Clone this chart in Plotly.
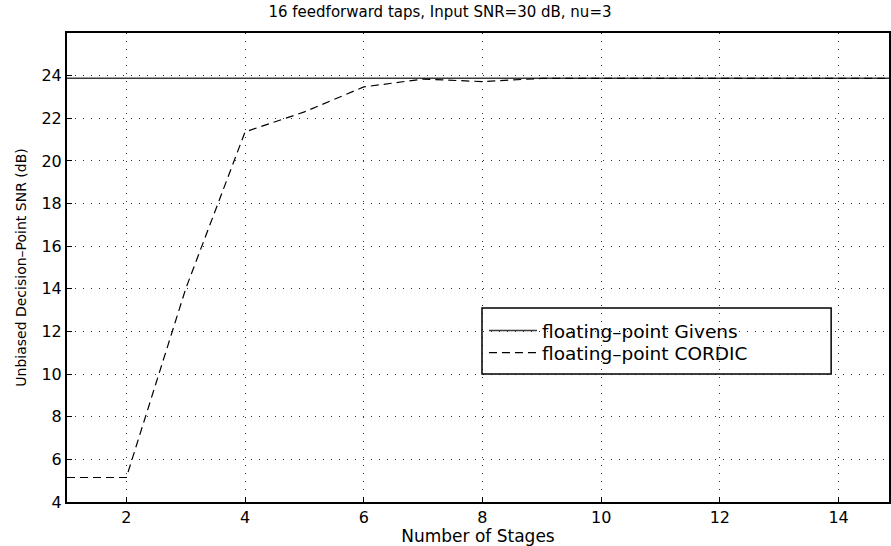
import plotly.graph_objects as go

# Number of stages in the rotation pipeline
stages = list(range(1, 16))

# Unbiased decision-point SNR (dB) for each implementation
givens_snr = [23.88] * len(stages)
cordic_snr = [5.15, 5.15, 14.0, 21.36, 22.3, 23.47, 23.84, 23.72, 23.87,
              23.87, 23.87, 23.87, 23.87, 23.87, 23.87]

x_ticks = [2, 4, 6, 8, 10, 12, 14]
y_ticks = [4, 6, 8, 10, 12, 14, 16, 18, 20, 22, 24]

FONT = "DejaVu Sans, Verdana, sans-serif"

# plot-area geometry (pixels) used to place the legend
L, R, T, B = 67, 891, 33, 502
W, H = R - L, B - T


def px_x(v):
    return (v - L) / W


def px_y(v):
    return (B - v) / H


fig = go.Figure()
fig.add_trace(go.Scatter(
    x=stages, y=givens_snr, mode="lines", name="floating\u2013point Givens",
    line=dict(color="#3a3a3a", width=1.6), legend="legend",
))
fig.add_trace(go.Scatter(
    x=stages, y=cordic_snr, mode="lines", name="floating\u2013point CORDIC",
    line=dict(color="black", width=1.2, dash="8px,5px"), legend="legend2",
))

axis_common = dict(
    showline=True, linecolor="black", linewidth=2, mirror=True,
    ticks="inside", ticklen=5, tickcolor="black", tickwidth=1,
    showgrid=True, gridcolor="#333333", gridwidth=1, griddash="1px,7px",
    zeroline=False,
    tickfont=dict(family=FONT, size=16, color="black"),
)

fig.update_xaxes(
    range=[1, 14.85], tickvals=x_ticks,
    title=dict(text="Number of Stages", font=dict(family=FONT, size=17, color="black"),
               standoff=4),
    **axis_common,
)
fig.update_yaxes(
    range=[4, 26], tickvals=y_ticks,
    title=dict(text="Unbiased Decision\u2013Point SNR (dB)",
               font=dict(family=FONT, size=14, color="black"), standoff=12),
    **axis_common,
)

# legend frame
fig.add_shape(type="rect", xref="paper", yref="paper",
              x0=px_x(483), x1=px_x(833), y0=px_y(374), y1=px_y(308),
              line=dict(color="black", width=1.5), fillcolor="rgba(0,0,0,0)",
              layer="above")

legend_common = dict(
    xanchor="left", yanchor="middle", itemwidth=48,
    bgcolor="rgba(0,0,0,0)", borderwidth=0,
    font=dict(family=FONT, size=18.5, color="black"),
)

fig.update_layout(
    width=891, height=546,
    margin=dict(l=L, r=891 - R, t=T, b=546 - B),
    paper_bgcolor="white", plot_bgcolor="white",
    title=dict(text="16 feedforward taps, Input SNR=30 dB, nu=3",
               font=dict(family=FONT, size=15, color="black"),
               x=440 / 891, xanchor="center", y=1 - 12 / 546, yanchor="middle"),
    showlegend=True,
    legend=dict(x=px_x(485), y=px_y(331), **legend_common),
    legend2=dict(x=px_x(485), y=px_y(353), **legend_common),
)

fig.write_html("out.html")
